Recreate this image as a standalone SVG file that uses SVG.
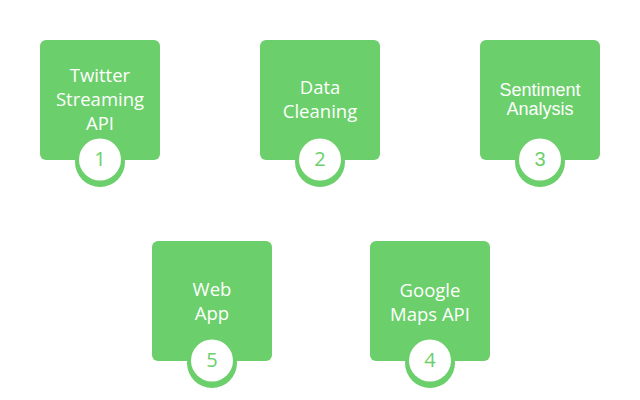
<svg xmlns="http://www.w3.org/2000/svg" width="640" height="400" viewBox="0 0 640 400">
<style>
.box{fill:#6bcf6b}
.ring{fill:#6bcf6b}
.disc{fill:#ffffff}
.lbl{font-family:"Open Sans","DejaVu Sans",sans-serif;font-size:18.5px;fill:#ffffff;text-anchor:middle}
.lbl2{font-family:"Liberation Sans",Arial,sans-serif;font-size:18px;fill:#ffffff;text-anchor:middle}
.num{font-family:"Open Sans","DejaVu Sans",sans-serif;font-size:20px;fill:#6bcf6b;text-anchor:middle}
.num2{font-family:"Liberation Sans",Arial,sans-serif;font-size:20px;fill:#6bcf6b;text-anchor:middle}
</style>
<rect width="640" height="400" fill="#ffffff"/>
<g id="connectors"></g>
<g id="node1">
<rect class="box" x="40" y="40" width="120" height="120" rx="6"/>
<circle class="ring" cx="100" cy="162" r="25"/>
<circle class="disc" cx="100" cy="159.5" r="21"/>
<text class="lbl" x="100" y="82">Twitter</text>
<text class="lbl" x="100" y="106">Streaming</text>
<text class="lbl" x="100" y="130">API</text>
<text class="num" x="100" y="166">1</text>
</g>
<g id="node2">
<rect class="box" x="260" y="40" width="120" height="120" rx="6"/>
<circle class="ring" cx="320" cy="162" r="25"/>
<circle class="disc" cx="320" cy="159.5" r="21"/>
<text class="lbl" x="320" y="93.5">Data</text>
<text class="lbl" x="320" y="117.5">Cleaning</text>
<text class="num" x="320" y="166">2</text>
</g>
<g id="node3">
<rect class="box" x="480" y="40" width="120" height="120" rx="6"/>
<circle class="ring" cx="540" cy="162" r="25"/>
<circle class="disc" cx="540" cy="159.5" r="21"/>
<text class="lbl2" x="540" y="95.5">Sentiment</text>
<text class="lbl2" x="540" y="114.5">Analysis</text>
<text class="num2" x="540" y="166">3</text>
</g>
<g id="node5">
<rect class="box" x="152" y="241" width="120" height="120" rx="6"/>
<circle class="ring" cx="212" cy="363" r="25"/>
<circle class="disc" cx="212" cy="360.5" r="21"/>
<text class="lbl" x="212" y="296">Web</text>
<text class="lbl" x="212" y="320">App</text>
<text class="num" x="212" y="367">5</text>
</g>
<g id="node4">
<rect class="box" x="370" y="241" width="120" height="120" rx="6"/>
<circle class="ring" cx="430" cy="363" r="25"/>
<circle class="disc" cx="430" cy="360.5" r="21"/>
<text class="lbl" x="430" y="296.5">Google</text>
<text class="lbl" x="430" y="320.5">Maps API</text>
<text class="num" x="430" y="367">4</text>
</g>
</svg>
